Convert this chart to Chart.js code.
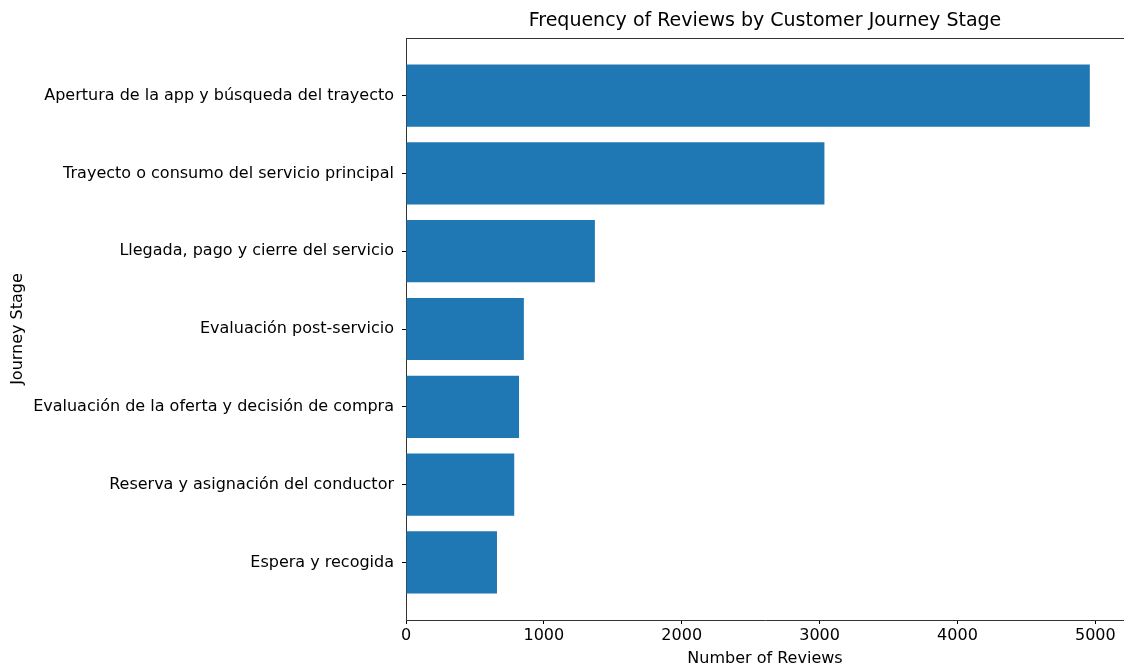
<!DOCTYPE html>
<html>
<head>
<meta charset="utf-8">
<script src="https://cdn.jsdelivr.net/npm/chart.js@4"></script>
<style>
    html, body { margin: 0; padding: 0; background: #fff; }
    #wrap { width: 1124px; height: 668px; }
</style>
</head>
<body>
<div id="wrap"><canvas id="stageChart"></canvas></div>
<script>
// Review counts per journey stage (sorted, largest first)
const stages = [
    'Apertura de la app y búsqueda del trayecto',
    'Trayecto o consumo del servicio principal',
    'Llegada, pago y cierre del servicio',
    'Evaluación post-servicio',
    'Evaluación de la oferta y decisión de compra',
    'Reserva y asignación del conductor',
    'Espera y recogida'
];
const reviewCounts = [4960, 3035, 1370, 855, 820, 785, 660];
const xTicks = [0, 1000, 2000, 3000, 4000, 5000];

const FONT = 'DejaVu Sans';
const BAR_BLUE = '#1f77b4';
const TITLE = 'Frequency of Reviews by Customer Journey Stage';

// title centred over the plot area + top spine
const axesFrame = {
    id: 'axesFrame',
    afterDraw(chart) {
        const { ctx, chartArea } = chart;
        ctx.save();
        ctx.strokeStyle = '#333';
        ctx.lineWidth = 1;
        ctx.beginPath();
        ctx.moveTo(chartArea.left, chartArea.top + 0.5);
        ctx.lineTo(chartArea.right, chartArea.top + 0.5);
        ctx.stroke();

        ctx.fillStyle = '#000';
        ctx.font = '19px "' + FONT + '"';
        ctx.textAlign = 'center';
        ctx.textBaseline = 'middle';
        ctx.fillText(TITLE, (chartArea.left + chartArea.right) / 2, 21);
        ctx.restore();
    }
};

const ctx = document.getElementById('stageChart').getContext('2d');
new Chart(ctx, {
    type: 'bar',
    data: {
        datasets: [{
            label: 'Number of Reviews',
            data: reviewCounts.map((v, i) => ({ x: v, y: i })),
            backgroundColor: BAR_BLUE,
            borderWidth: 0,
            categoryPercentage: 1,
            barPercentage: 0.8
        }]
    },
    options: {
        indexAxis: 'y',
        responsive: true,
        maintainAspectRatio: false,
        animation: false,
        layout: { padding: { top: 38, right: 0, bottom: 0, left: 0 } },
        plugins: {
            legend: { display: false },
            tooltip: { enabled: false },
            title: { display: false }
        },
        scales: {
            x: {
                type: 'linear',
                min: 0,
                max: 5208,
                afterBuildTicks(scale) {
                    scale.ticks = xTicks.map(v => ({ value: v }));
                },
                afterFit(scale) { scale.height = 48; },
                grid: {
                    drawOnChartArea: false,
                    drawTicks: true,
                    tickLength: 4,
                    tickColor: '#000'
                },
                border: { display: true, color: '#333', width: 1 },
                ticks: {
                    color: '#000',
                    padding: 2,
                    font: { family: FONT, size: 16 },
                    maxRotation: 0,
                    callback: (v) => String(v)
                },
                title: {
                    display: true,
                    text: 'Number of Reviews',
                    color: '#000',
                    font: { family: FONT, size: 16 },
                    padding: { top: 0, bottom: 0 }
                }
            },
            y: {
                type: 'linear',
                reverse: true,
                offset: false,
                min: -0.74,
                max: stages.length - 1 + 0.74,
                afterBuildTicks(scale) {
                    scale.ticks = stages.map((_, i) => ({ value: i }));
                },
                afterFit(scale) { scale.width = 406; },
                grid: {
                    offset: false,
                    drawOnChartArea: false,
                    drawTicks: true,
                    tickLength: 4,
                    tickColor: '#000'
                },
                border: { display: true, color: '#333', width: 1 },
                ticks: {
                    color: '#000',
                    padding: 8,
                    font: { family: FONT, size: 16 },
                    autoSkip: false,
                    callback: (v) => stages[v] ?? ''
                },
                title: {
                    display: true,
                    text: 'Journey Stage',
                    color: '#000',
                    font: { family: FONT, size: 16 },
                    padding: { top: 8, bottom: 0 }
                }
            }
        }
    },
    plugins: [axesFrame]
});
</script>
</body>
</html>
